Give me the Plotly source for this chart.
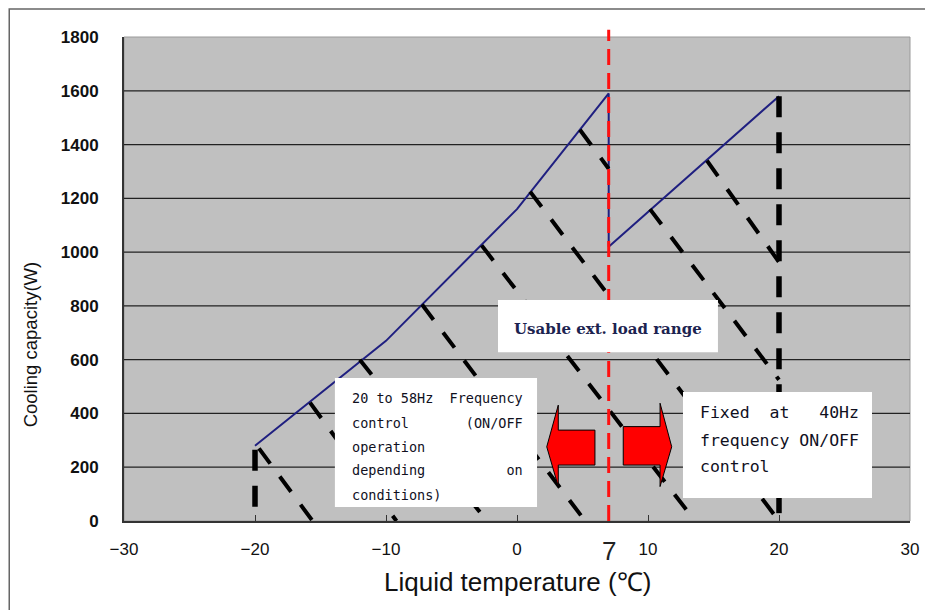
import plotly.graph_objects as go

# ---- data ----
X_TICKS = [-30, -20, -10, 0, 10, 20, 30]
Y_TICKS = [0, 200, 400, 600, 800, 1000, 1200, 1400, 1600, 1800]

# blue capacity curve (liquid temperature, cooling capacity)
BLUE_X = [-20, -10, 0, 7, 7, 20]
BLUE_Y = [280, 670, 1160, 1590, 1020, 1580]

# black dashed hatch lines: start point on the curve -> end point
HATCH_X0 = [-19.7, -15.8, -12.0, -7.25, -2.7, 1.0, 4.8, 10.15, 14.5]
HATCH_Y0 = [270, 440, 600, 805, 1025, 1225, 1455, 1160, 1340]
HATCH_X1 = [-15.6, -9.2, -2.3, 5.2, 13.6, 20.0, 7.0, 20.0, 20.0]
HATCH_Y1 = [0, 0, 0, 0, 0, 0, 1310, 525, 963]

# thick vertical dashed limits
VERT_X = [-20, 20]
VERT_TOP = [265, 1580]

SWITCH_T = 7  # red dashed line temperature

USABLE_TEXT = "Usable ext. load range"
LEFT_LINES = [
    "20 to 58Hz\u00a0\u00a0Frequency",
    "control\u00a0\u00a0\u00a0\u00a0\u00a0\u00a0\u00a0(ON/OFF",
    "operation",
    "depending\u00a0\u00a0\u00a0\u00a0\u00a0\u00a0\u00a0\u00a0\u00a0\u00a0on",
    "conditions)",
]
RIGHT_LINES = [
    "Fixed\u00a0\u00a0at\u00a0\u00a0\u00a040Hz",
    "frequency ON/OFF",
    "control",
]

fig = go.Figure()

fig.add_trace(go.Scatter(x=BLUE_X, y=BLUE_Y, mode="lines",
                         line=dict(color="#1f1f80", width=2), hoverinfo="skip"))

for x0, y0, x1, y1 in zip(HATCH_X0, HATCH_Y0, HATCH_X1, HATCH_Y1):
    fig.add_trace(go.Scatter(x=[x0, x1], y=[y0, y1], mode="lines",
                             line=dict(color="black", width=4, dash="19px,16px"),
                             hoverinfo="skip"))

for vx, vt in zip(VERT_X, VERT_TOP):
    fig.add_trace(go.Scatter(x=[vx, vx], y=[vt, 0], mode="lines",
                             line=dict(color="black", width=5.5, dash="21px,15px"),
                             hoverinfo="skip"))

shapes = []
# figure frame
shapes.append(dict(type="rect", xref="paper", yref="paper", x0=-0.146, x1=1.05,
                   y0=-0.2, y1=1.058, line=dict(color="#666666", width=1.5),
                   layer="below"))
# plot border (light)
shapes.append(dict(type="rect", xref="paper", yref="paper", x0=0, x1=1, y0=0, y1=1,
                   line=dict(color="#9a9a9a", width=1), layer="below"))
# horizontal grid lines
for yv in Y_TICKS[1:-1]:
    shapes.append(dict(type="line", xref="paper", yref="y", x0=0, x1=1, y0=yv, y1=yv,
                       line=dict(color="#222222", width=1.3), layer="below"))
# red dashed switch line
shapes.append(dict(type="line", xref="x", yref="paper", x0=SWITCH_T, x1=SWITCH_T,
                   y0=0, y1=1.015, line=dict(color="#ff1010", width=3, dash="16px,8px"),
                   layer="above"))
# white text boxes
for bx0, bx1, by0, by1 in [(-1.45, 15.34, 628, 822), (-13.9, 1.53, 52, 532),
                           (12.67, 27.1, 86, 480)]:
    shapes.append(dict(type="rect", xref="x", yref="y", x0=bx0, x1=bx1, y0=by0, y1=by1,
                       fillcolor="white", line=dict(width=0), layer="above"))
# red arrows
shapes.append(dict(type="path", xref="x", yref="y",
                   path="M 2.27,276 L 3.15,431 L 3.15,338 L 5.95,338 L 5.95,208 "
                        "L 3.15,208 L 3.15,128 Z",
                   fillcolor="#ff0000", line=dict(color="black", width=1), layer="above"))
shapes.append(dict(type="path", xref="x", yref="y",
                   path="M 11.81,276 L 10.92,438 L 10.92,351 L 8.11,351 L 8.11,208 "
                        "L 10.92,208 L 10.92,128 Z",
                   fillcolor="#ff0000", line=dict(color="black", width=1), layer="above"))

annotations = []
annotations.append(dict(x=6.95, y=714, xref="x", yref="y", text=USABLE_TEXT,
                        showarrow=False, xanchor="center", yanchor="middle",
                        font=dict(family="DejaVu Serif", size=15, color="#1c2350",
                                  weight="bold")))
for line, yv in zip(LEFT_LINES, [457, 364, 275, 190, 97]):
    annotations.append(dict(x=-12.75, y=yv, xref="x", yref="y", text=line,
                            showarrow=False, xanchor="left", yanchor="middle",
                            font=dict(family="DejaVu Sans Mono", size=13.5,
                                      color="#10101e")))
for line, yv in zip(RIGHT_LINES, [402, 301, 201]):
    annotations.append(dict(x=13.8, y=yv, xref="x", yref="y", text=line,
                            showarrow=False, xanchor="left", yanchor="middle",
                            font=dict(family="DejaVu Sans Mono", size=16.5,
                                      color="#10101e")))
annotations.append(dict(x=SWITCH_T, y=-0.061, xref="x", yref="paper", text=str(SWITCH_T),
                        showarrow=False, xanchor="center", yanchor="middle",
                        font=dict(family="Liberation Sans", size=26, color="#222222")))
annotations.append(dict(x=0.5, y=-0.125, xref="paper", yref="paper",
                        text="Liquid temperature (℃)", showarrow=False,
                        xanchor="center", yanchor="middle",
                        font=dict(family="Liberation Sans", size=26, color="#111111")))
annotations.append(dict(x=-0.1196, y=0.365, xref="paper", yref="paper",
                        text="Cooling capacity(W)", showarrow=False, textangle=-90,
                        xanchor="center", yanchor="middle",
                        font=dict(family="Liberation Sans", size=18.5, color="#111111")))

fig.update_layout(
    width=925, height=602,
    margin=dict(l=116, r=23, t=29, b=89),
    plot_bgcolor="#c0c0c0", paper_bgcolor="white",
    showlegend=False,
    shapes=shapes, annotations=annotations,
    xaxis=dict(range=[-30, 30], tickvals=X_TICKS, ticks="inside", ticklen=6,
               tickcolor="#333333", showgrid=False, zeroline=False, showline=True,
               linecolor="#333333", linewidth=2, ticklabelstandoff=12,
               tickfont=dict(family="Liberation Sans", size=17, color="#111111")),
    yaxis=dict(range=[0, 1800], tickvals=Y_TICKS, ticks="", showgrid=False,
               zeroline=False, showline=True, linecolor="#333333", linewidth=2,
               ticklabelstandoff=20,
               tickfont=dict(family="Liberation Sans", size=17, color="#111111",
                             weight="bold")),
)

fig.write_html("out.html")
